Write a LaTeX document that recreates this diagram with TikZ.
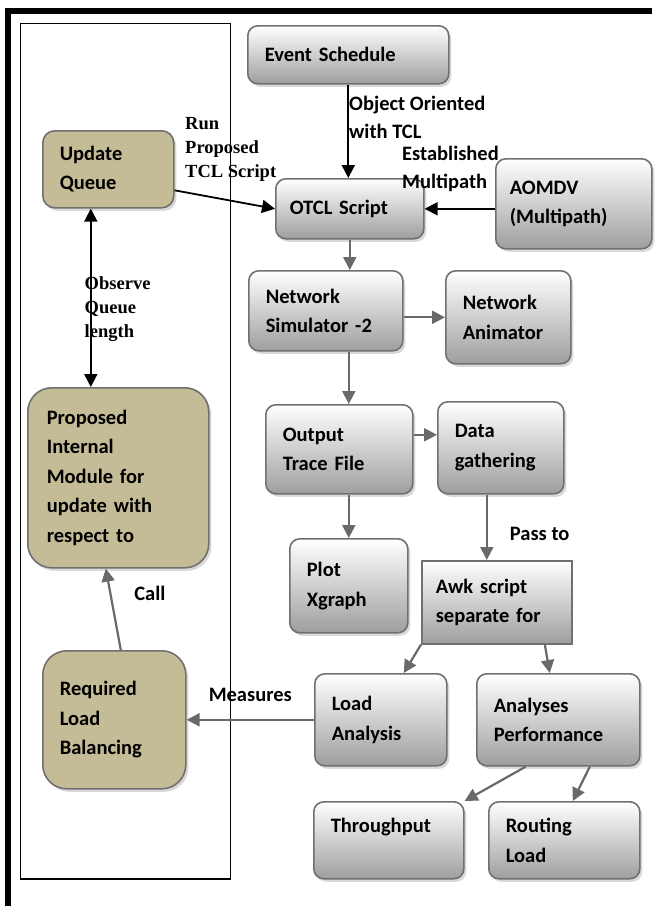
\documentclass[tikz,border=0pt]{standalone}
\usepackage{fontspec}
\setmainfont{Carlito}
\newfontfamily\timesfont{Liberation Serif}
\usetikzlibrary{arrows.meta, shadows}
\definecolor{boxgray}{RGB}{112,112,112}
\definecolor{arrowgray}{RGB}{105,105,105}
\definecolor{queuetan}{RGB}{196,188,150}

\begin{document}
\begin{tikzpicture}[x = 1pt, y = -1pt, > = {Triangle[length = 13pt, width = 13pt]},
    simbox/.style = {draw = boxgray, line width = 1.6pt, inner xsep = 17pt, inner ysep = 0pt, anchor = north west, align = left, font = \fontsize{20.5}{29.5}\selectfont\bfseries},
    gbox/.style = {simbox, rounded corners = 10pt, top color = white, bottom color = black!38, drop shadow = {shadow xshift = 2.5pt, shadow yshift = -3pt, opacity = 0.3}},
    sbox/.style = {simbox, inner xsep = 14pt, top color = white, bottom color = black!38},
    tbox/.style = {simbox, fill = queuetan, drop shadow = {shadow xshift = 2.5pt, shadow yshift = -3pt, opacity = 0.3}},
    lbl/.style = {inner sep = 0pt, align = left, font = \fontsize{20.5}{28}\selectfont\bfseries},
    tlbl/.style = {inner sep = 0pt, align = left, font = \fontsize{18.5}{24}\selectfont\timesfont\bfseries},
    blk/.style = {->, line width = 1.8pt},
    gry/.style = {->, line width = 2.2pt, every edge/.append style = {draw = arrowgray}}]
  \useasboundingbox (0,0) rectangle (655,906);
  \draw[line width = 6.5pt] (652,11) -- (8,11) -- (8,906);
  \draw[line width = 1.2pt] (20.5,23.5) rectangle (230.5,879);

  \node[gbox, text width = 167pt, minimum height = 58pt] (event) at (247,25) {Event Schedule};
  \node[gbox, text width = 120pt, minimum height = 60pt, inner xsep = 14pt] (otcl) at (275,178) {OTCL Script};
  \node[gbox, text width = 128pt, minimum height = 90pt, inner xsep = 14pt] (aomdv) at (495,158) {AOMDV\\(Multipath)};
  \node[tbox, rounded corners = 12pt, text width = 97pt, minimum height = 77pt] (update) at (42,130) {Update\\Queue};
  \node[gbox, text width = 120pt, minimum height = 80pt] (ns) at (248,270) {Network\\Simulator -2};
  \node[gbox, text width = 91pt, minimum height = 93pt] (nam) at (445,270) {Network\\Animator};
  \node[gbox, text width = 113pt, minimum height = 89pt] (trace) at (265,404) {Output\\Trace File};
  \node[gbox, text width = 92pt, minimum height = 92pt] (gather) at (437,401) {Data\\gathering};
  \node[gbox, text width = 84pt, minimum height = 94pt] (plot) at (289,538) {Plot\\Xgraph};
  \node[sbox, text width = 122pt, minimum height = 83pt] (awk) at (421,560) {Awk script\\separate for};
  \node[gbox, text width = 98pt, minimum height = 92pt] (load) at (314,673) {Load\\Analysis};
  \node[gbox, text width = 129pt, minimum height = 92pt] (perf) at (476,673) {Analyses\\Performance};
  \node[gbox, text width = 116pt, minimum height = 77pt] (thru) at (313,801) {Throughput\\\mbox{}};
  \node[gbox, text width = 117pt, minimum height = 77pt] (route) at (488,801) {Routing\\Load};
  \node[tbox, rounded corners = 24pt, text width = 143pt, minimum height = 180pt, inner xsep = 19pt] (module) at (27,387) {Proposed\\Internal\\Module for\\update with\\respect to};
  \node[tbox, rounded corners = 24pt, text width = 109pt, minimum height = 138pt] (balance) at (42,650) {Required\\Load\\Balancing};

  \node[lbl, anchor = base west] (emlbl) at (402,188) {Established\\Multipath};
  \node[tlbl, anchor = base west] (runlbl) at (185,177) {Run\\Proposed\\TCL Script};

  \path[blk] (event.south) edge node[lbl, pos = 0.58, anchor = base west] (oolbl) {Object Oriented\\with TCL} (event.south |- otcl.north)
             (aomdv.west |- otcl) edge (otcl.east)
             ([yshift = -21pt]update.east) edge (otcl.west);
  \path[blk, <->] ([xshift = -17.5pt]update.south) edge node[tlbl, pos = 0.72, anchor = base west, xshift = -7pt] (obslbl) {Observe\\Queue\\length} ([xshift = -27.5pt]module.north);
  \path[gry] (otcl.south) edge (otcl.south |- ns.north)
             (ns.east |- nam) edge (nam.west)
             ([xshift = 23pt]ns.south) edge ([xshift = 23pt]ns.south |- trace.north)
             ([yshift = 14.5pt]trace.east) edge ([yshift = 14.5pt]trace.east -| gather.west)
             (trace.south -| plot) edge (plot.north)
             ([xshift = -14pt]gather.south) edge node[lbl, pos = 0.7, anchor = base west, xshift = 22pt] (passlbl) {Pass to} ([xshift = -14pt]gather.south |- awk.north)
             (awk.south west) edge ([xshift = 23pt]load.north)
             ([xshift = 48pt]awk.south) edge ([xshift = -8.5pt]perf.north)
             ([xshift = -32.5pt]perf.south) edge (thru.north east)
             ([xshift = 31.5pt]perf.south) edge ([xshift = 8.5pt]route.north)
             (load.west) edge node[lbl, above = 17pt] (measlbl) {Measures} (balance.east)
             ([xshift = 6.5pt]balance.north) edge node[lbl, anchor = base west, xshift = 20pt, yshift = 9pt] (calllbl) {Call} ([xshift = -12.5pt]module.south);
\end{tikzpicture}
\end{document}
